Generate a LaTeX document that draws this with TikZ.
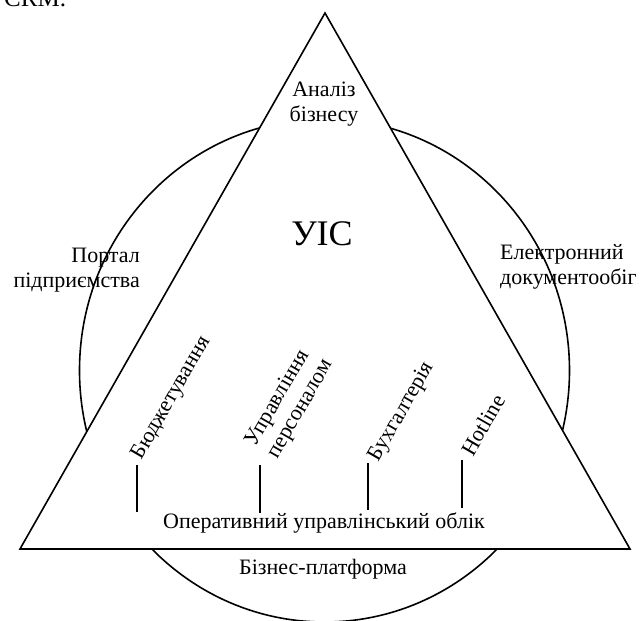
\documentclass[tikz,border=0pt]{standalone}
\usepackage{fontspec}
\setmainfont{Liberation Serif}
\begin{document}
\begin{tikzpicture}[x=1pt,y=-1pt,
  outline/.style={line width=1.6pt, line join=miter},
  lbl/.style={font=\fontsize{22}{25}\selectfont, inner sep=0pt},
  tilted/.style={lbl, rotate=60},
  link/.style={line width=1.6pt}]
\useasboundingbox (0,0) rectangle (641,621);

% caption fragment above the figure
\node[anchor=base west, inner sep=0pt, font=\fontsize{25}{28}\selectfont] (crm) at (4,6) {CRM.};

% outer ring of services, partly hidden behind the triangle
\draw[outline] (324.5,370.5) ellipse [x radius=245, y radius=251.5];

% the triangle of the information system
\coordinate (apex) at (325,13);
\coordinate (bl) at (20,549);
\coordinate (br) at (630,549);
\filldraw[outline, fill=white] (apex) -- (bl) -- (br) -- cycle;

% texts
\node[lbl, align=center] (analysis) at (324,104) {Аналіз\\бізнесу};
\node[font=\fontsize{36}{40}\selectfont, inner sep=0pt] (uis) at (322,234) {УІС};
\node[lbl, align=right, anchor=east] (portal) at (140,270) {Портал\\підприємства};
\node[lbl, align=left, anchor=west] (edoc) at (500,267) {Електронний\\документообіг};
\node[lbl] (ops) at (324,523) {Оперативний управлінський облік};
\node[lbl] (platform) at (323,569) {Бізнес-платформа};

% modules
\node[tilted] (budget) at (172,398) {Бюджетування};
\node[tilted, align=left] (hr) at (290,403) {Управління\\персоналом};
\node[tilted] (acc) at (402,412) {Бухгалтерія};
\node[tilted] (hot) at (483,425) {Hotline};

% ties from the modules down to operational accounting
\coordinate (t1) at (137,465); \coordinate (b1) at (137,512);
\coordinate (t2) at (260,465); \coordinate (b2) at (260,513);
\coordinate (t3) at (368,463); \coordinate (b3) at (368,510);
\coordinate (t4) at (462,460); \coordinate (b4) at (462,508);
\draw[link] (t1) -- (b1);
\draw[link] (t2) -- (b2);
\draw[link] (t3) -- (b3);
\draw[link] (t4) -- (b4);
\end{tikzpicture}
\end{document}
